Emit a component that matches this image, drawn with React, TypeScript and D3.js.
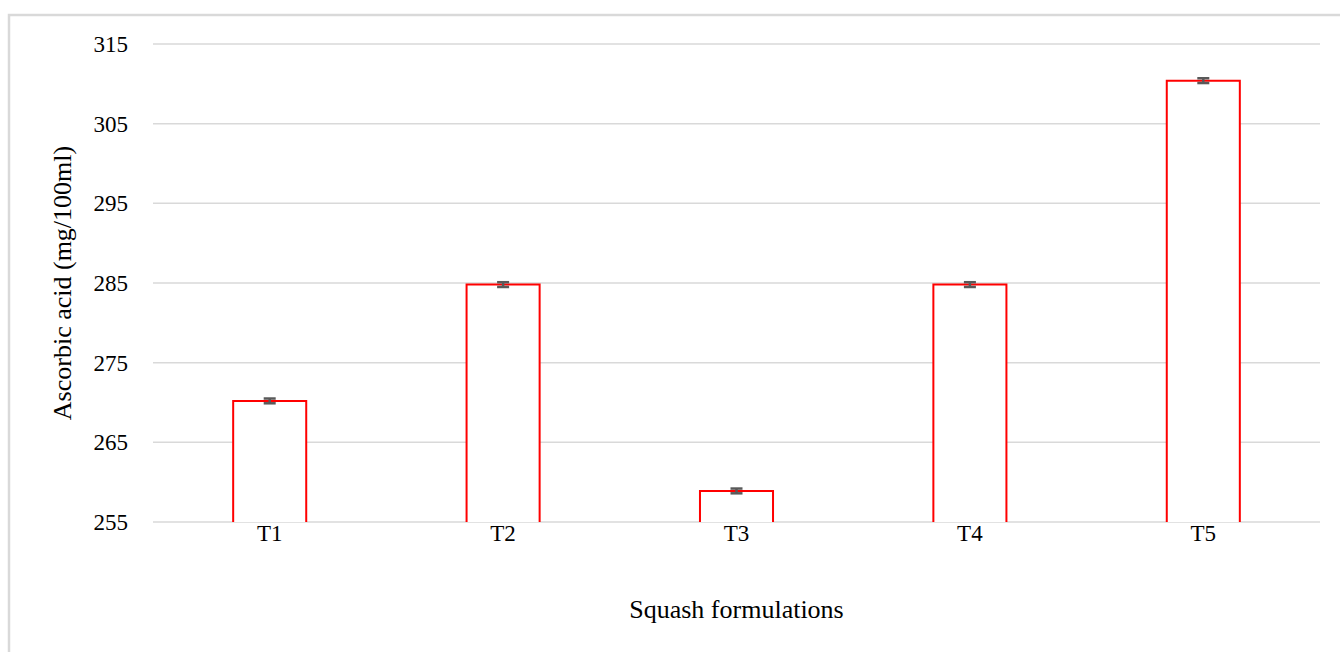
import React from "react";
import * as d3 from "d3";

const categories = ["T1", "T2", "T3", "T4", "T5"];
const values = [270.2, 284.8, 258.9, 284.8, 310.4];
const errors = [0.3, 0.3, 0.3, 0.3, 0.3];
const yTicks = [255, 265, 275, 285, 295, 305, 315];
const xTitle = "Squash formulations";
const yTitle = "Ascorbic acid (mg/100ml)";

export default function App() {
  const W = 1340, H = 652;
  const left = 153, right = 1320, top = 44, bottom = 522;
  const x = d3.scaleBand<string>().domain(categories).range([left, right]).paddingInner(0.687).paddingOuter(0.3435);
  const y = d3.scaleLinear().domain([255, 315]).range([bottom, top]);
  const font = "'Liberation Serif', 'Times New Roman', serif";
  return (
    <svg width={W} height={H} style={{ position: "absolute", left: 0, top: 0, background: "#fff" }}>
      <rect x={9} y={15} width={W + 20} height={H + 20} fill="#fff" stroke="#d9d9d9" strokeWidth={2.5} />
      {yTicks.map((t) => (
        <g key={t}>
          <line x1={left} x2={right} y1={y(t)} y2={y(t)} stroke="#d9d9d9" strokeWidth={1.5} />
          <text x={128} y={y(t)} dy="0.35em" textAnchor="end" fontFamily={font} fontSize={23} fill="#000">{t}</text>
        </g>
      ))}
      {categories.map((c, i) => {
        const bx = x(c)!;
        const bw = x.bandwidth();
        const cx = bx + bw / 2;
        return (
          <g key={c}>
            <path d={`M${bx},${y(255)}V${y(values[i])}H${bx + bw}V${y(255)}`} fill="#fff" stroke="#ff0000" strokeWidth={2} />
            <g stroke="#595959" strokeWidth={2.5}>
              <line x1={cx} x2={cx} y1={y(values[i] + errors[i])} y2={y(values[i] - errors[i])} />
              <line x1={cx - 6} x2={cx + 6} y1={y(values[i] + errors[i])} y2={y(values[i] + errors[i])} />
              <line x1={cx - 6} x2={cx + 6} y1={y(values[i] - errors[i])} y2={y(values[i] - errors[i])} />
            </g>
            <text x={cx} y={541} textAnchor="middle" fontFamily={font} fontSize={23} fill="#000">{c}</text>
          </g>
        );
      })}
      <text x={(left + right) / 2} y={618} textAnchor="middle" fontFamily={font} fontSize={26} fill="#000">{xTitle}</text>
      <text transform={`translate(71,${(top + bottom) / 2}) rotate(-90)`} textAnchor="middle" fontFamily={font} fontSize={26} fill="#000">{yTitle}</text>
    </svg>
  );
}
